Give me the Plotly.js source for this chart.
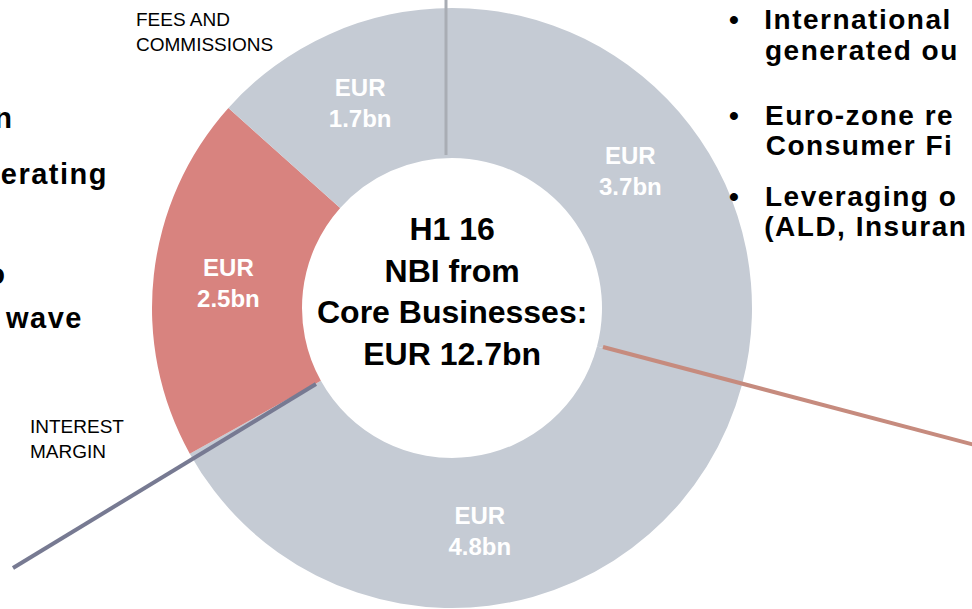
<!DOCTYPE html>
<html>
<head>
<meta charset="utf-8">
<script src="https://cdn.plot.ly/plotly-3.0.1.min.js"></script>
<style>
html,body{margin:0;padding:0;background:#fff;}
#chart{width:972px;height:609px;}
</style>
</head>
<body>
<div id="chart"></div>
<script>
// ---- data ----
const categories = ["Other core revenues (A)", "Other core revenues (B)", "Interest margin", "Fees and commissions"];
const valuesBn = [3.7, 4.8, 2.5, 1.7];
const sliceLabels = ["EUR<br>3.7bn", "EUR<br>4.8bn", "EUR<br>2.5bn", "EUR<br>1.7bn"];
const sliceColors = ["#C5CBD4", "#C5CBD4", "#D8837F", "#C5CBD4"];
const centerLines = ["H1 16", "NBI from", "Core Businesses:", "EUR 12.7bn"];
const rightBullets = [["International", "generated ou"], ["Euro-zone re", "Consumer Fi"], ["Leveraging o", "(ALD, Insuran"]];
const leftFragments = ["n", "erating", "o", "wave"];

const W = 972, H = 609;
const px = x => x / W;
const py = y => 1 - y / H;
const FONT = "Liberation Sans, Arial, sans-serif";

const trace = {
  type: "pie",
  values: valuesBn,
  labels: categories,
  text: sliceLabels,
  textinfo: "text",
  textposition: "inside",
  insidetextorientation: "horizontal",
  textfont: {family: FONT, size: 24, color: "#ffffff", weight: "bold"},
  marker: {colors: sliceColors, line: {width: 0}},
  hole: 0.5,
  sort: false,
  direction: "clockwise",
  rotation: 0,
  hoverinfo: "none",
  showlegend: false,
  domain: {x: [px(152), px(752)], y: [py(608), py(8)]}
};

const annotations = [];
const spacedIdx = [];
annotations.push({
  xref: "paper", yref: "paper", x: px(452), y: py(291),
  xanchor: "center", yanchor: "middle", showarrow: false,
  text: centerLines.map(s => "<b>" + s + "</b>").join("<br>"),
  font: {family: FONT, size: 32, color: "#000000"}, align: "center"
});
// small labels
annotations.push({xref:"paper", yref:"paper", x: px(134), y: py(32), xanchor:"left", yanchor:"middle", showarrow:false,
  text:"FEES AND<br>COMMISSIONS", align:"left", font:{family:FONT, size:19, color:"#000"}});
annotations.push({xref:"paper", yref:"paper", x: px(28), y: py(439), xanchor:"left", yanchor:"middle", showarrow:false,
  text:"INTEREST<br>MARGIN", align:"left", font:{family:FONT, size:19, color:"#000"}});
// right bullets
const bulletCenters = [[20, 50], [115, 145], [196, 226]];
rightBullets.forEach((lines, i) => {
  annotations.push({xref:"paper", yref:"paper", x: px(734), y: py(bulletCenters[i][0]), xanchor:"center", yanchor:"middle",
    showarrow:false, text:"<b>•</b>", font:{family:FONT, size:28, color:"#000"}});
  lines.forEach((ln, j) => {
    spacedIdx.push(annotations.length);
    annotations.push({xref:"paper", yref:"paper", x: px(772), y: py(bulletCenters[i][j]), xanchor:"left", yanchor:"middle",
      showarrow:false, text:"<b>" + ln + "</b>", font:{family:FONT, size:28, color:"#000"}});
  });
});
// left fragments (cut off by the page edge, as in the source slide)
const leftRight = [15, 105, 8, 82];
const leftCenters = [118, 174, 274, 318];
leftFragments.forEach((t, i) => {
  spacedIdx.push(annotations.length);
  annotations.push({xref:"paper", yref:"paper", x: px(leftRight[i]), y: py(leftCenters[i]), xanchor:"right", yanchor:"middle",
    showarrow:false, text:"<b>" + t + "</b>", font:{family:FONT, size:29, color:"#000"}});
});

// letter spacing for the slide's body text
const st = document.createElement("style");
st.textContent = spacedIdx.map(i => '.annotation[data-index="' + i + '"] text').join(",") + "{letter-spacing:1.5px;}";
document.head.appendChild(st);

const shapes = [
  {type:"line", xref:"paper", yref:"paper", x0:px(446), y0:py(-2), x1:px(446), y1:py(155), line:{color:"#A9ADB4", width:3}},
  {type:"line", xref:"paper", yref:"paper", x0:px(603), y0:py(347), x1:px(975), y1:py(445), line:{color:"#C68B7E", width:4}},
  {type:"line", xref:"paper", yref:"paper", x0:px(316), y0:py(384), x1:px(13), y1:py(568), line:{color:"#777A92", width:4}}
];

const layout = {
  width: W, height: H,
  margin: {l:0, r:0, t:0, b:0},
  paper_bgcolor: "#ffffff",
  plot_bgcolor: "#ffffff",
  showlegend: false,
  annotations: annotations,
  shapes: shapes,
  font: {family: FONT}
};

Plotly.newPlot("chart", [trace], layout, {displayModeBar: false, staticPlot: true});
</script>
</body>
</html>
